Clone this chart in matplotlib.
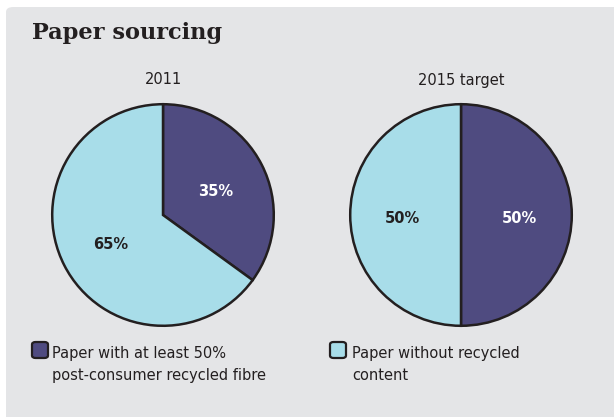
import matplotlib
matplotlib.use("Agg")
from matplotlib import pyplot as plt
from matplotlib.patches import FancyBboxPatch

W, H = 614, 417

pie_titles = ["2011", "2015 target"]
recycled_share = [35, 50]
non_recycled_share = [65, 50]
legend_labels = ["Paper with at least 50%\npost-consumer recycled fibre",
                 "Paper without recycled\ncontent"]

purple = "#4f4b80"
cyan = "#a8dde9"
edge = "#231f20"
panel = "#e4e5e7"

fig = plt.figure(figsize=(W / 100, H / 100), dpi=100)
fig.patch.set_facecolor("white")

# grey rounded panel, bleeding off right/bottom
bg = FancyBboxPatch((6 / W, -0.05), 1.1, 1 - 7 / H + 0.05,
                    boxstyle="round,pad=0,rounding_size=0.012",
                    transform=fig.transFigure, facecolor=panel,
                    edgecolor="none", zorder=-5)
fig.patches.append(bg)

fig.text(32 / W, 1 - 33 / H, "Paper sourcing", fontsize=16.2, fontweight="bold",
         family="DejaVu Serif", color="#231f20", va="center", ha="left")

centers = [(163, 215), (461, 215)]
r = 111
for i, (cx, cy) in enumerate(centers):
    ax = fig.add_axes([(cx - r - 2) / W, 1 - (cy + r + 2) / H,
                       (2 * r + 4) / W, (2 * r + 4) / H])
    ax.axis("off")
    vals = [recycled_share[i], non_recycled_share[i]]
    wedges, _, autotexts = ax.pie(vals, colors=[purple, cyan], startangle=90,
                                  counterclock=False, radius=1,
                                  autopct="%d%%", pctdistance=0.53,
                                  wedgeprops=dict(edgecolor=edge, linewidth=1.8))
    ax.set_xlim(-1.02, 1.02)
    ax.set_ylim(-1.02, 1.02)
    autotexts[0].set_color("white")
    autotexts[1].set_color("#231f20")
    for t in autotexts:
        t.set_fontsize(10.5)
        t.set_fontweight("bold")
        x, y = t.get_position()
        t.set_position((x, y - 0.03))
    fig.text(cx / W, 1 - 80 / H, pie_titles[i], fontsize=10.5,
             color="#231f20", ha="center", va="center")

# legend
leg_pos = [(32, 341, 52), (330, 341, 352)]
for (sx, sy, tx), col, lab in zip(leg_pos, [purple, cyan], legend_labels):
    sq = FancyBboxPatch((sx / W, 1 - (sy + 17) / H), 16 / W, 16 / H,
                        boxstyle="round,pad=0,rounding_size=0.006",
                        transform=fig.transFigure, facecolor=col,
                        edgecolor=edge, linewidth=1.6, zorder=3)
    fig.patches.append(sq)
    fig.text(tx / W, 1 - 346 / H, lab, fontsize=10.5, color="#231f20",
             ha="left", va="top", linespacing=1.6)

fig.savefig("out.png", dpi=100, facecolor=fig.get_facecolor())
